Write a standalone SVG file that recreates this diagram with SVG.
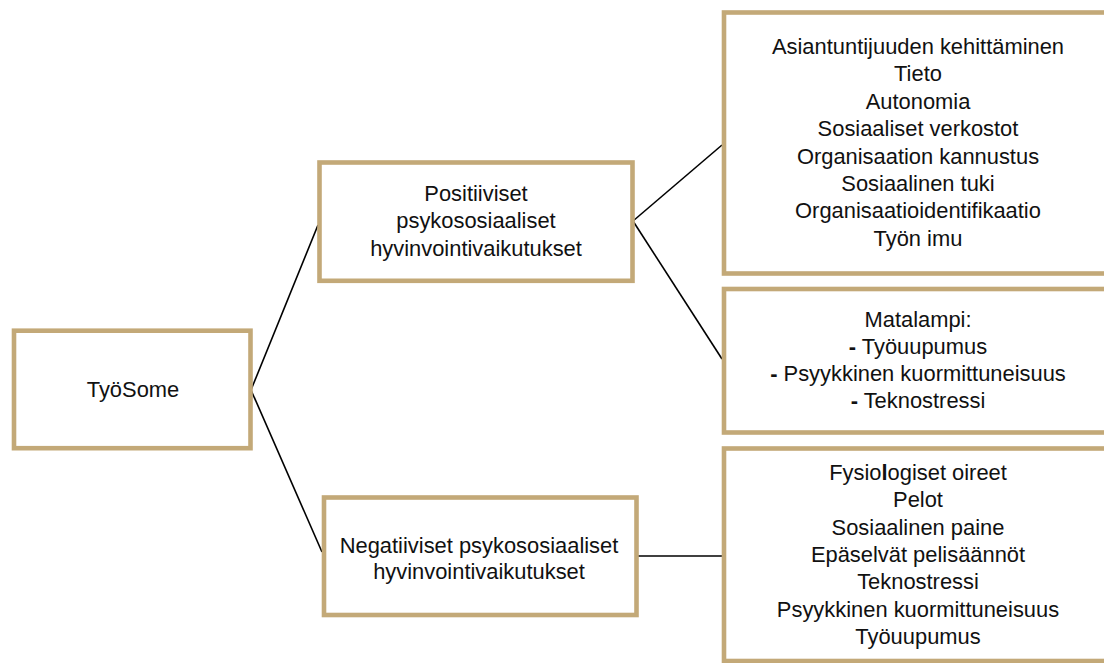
<svg xmlns="http://www.w3.org/2000/svg" width="1104" height="663" viewBox="0 0 1104 663">
<style>
.box{fill:#fff;stroke:#C3A978;stroke-width:4.6}
.t{font-family:"Liberation Sans",Arial,Helvetica,sans-serif;font-size:21.9px;fill:#111;text-anchor:middle}
.c{stroke:#000;stroke-width:1.6;fill:none}
.b{font-weight:bold}
</style>
<rect width="1104" height="663" fill="#fff"/>
<g id="connectors">
<line class="c" x1="251" y1="390" x2="318" y2="225"/>
<line class="c" x1="251" y1="390" x2="322" y2="552"/>
<line class="c" x1="633" y1="221" x2="722" y2="145"/>
<line class="c" x1="633" y1="221" x2="722" y2="359"/>
<line class="c" x1="637" y1="556" x2="722" y2="556"/>
</g>
<g id="tyosome">
<rect class="box" x="14" y="330.7" width="236.5" height="117.5"/>
<text class="t" x="133" y="396.5">TyöSome</text>
</g>
<g id="positiiviset">
<rect class="box" x="319.5" y="162.5" width="313" height="118.3"/>
<text class="t" x="476" y="200.7">Positiiviset</text>
<text class="t" x="476" y="228">psykososiaaliset</text>
<text class="t" x="476" y="255.5">hyvinvointivaikutukset</text>
</g>
<g id="negatiiviset">
<rect class="box" x="324" y="497.5" width="312.5" height="117.5"/>
<text class="t" x="479" y="552.5">Negatiiviset psykososiaaliset</text>
<text class="t" x="479" y="579">hyvinvointivaikutukset</text>
</g>
<g id="positiiviset-lista">
<rect class="box" x="724" y="12.5" width="390" height="261"/>
<text class="t" x="918" y="54">Asiantuntijuuden kehittäminen</text>
<text class="t" x="918" y="81.4">Tieto</text>
<text class="t" x="918" y="108.8">Autonomia</text>
<text class="t" x="918" y="136.2">Sosiaaliset verkostot</text>
<text class="t" x="918" y="163.6">Organisaation kannustus</text>
<text class="t" x="918" y="191">Sosiaalinen tuki</text>
<text class="t" x="918" y="218.4">Organisaatioidentifikaatio</text>
<text class="t" x="918" y="245.8">Työn imu</text>
</g>
<g id="matalampi">
<rect class="box" x="724" y="289" width="390" height="143.5"/>
<text class="t" x="918" y="326.5">Matalampi:</text>
<text class="t" x="918" y="353.8"><tspan class="b">-</tspan> Työuupumus</text>
<text class="t" x="918" y="381"><tspan class="b">-</tspan> Psyykkinen kuormittuneisuus</text>
<text class="t" x="918" y="408.3"><tspan class="b">-</tspan> Teknostressi</text>
</g>
<g id="negatiiviset-lista">
<rect class="box" x="724" y="448.5" width="390" height="212.5"/>
<text class="t" x="918" y="479.7">Fysio<tspan class="b">l</tspan>ogiset oireet</text>
<text class="t" x="918" y="507.1">Pelot</text>
<text class="t" x="918" y="534.5">Sosiaalinen paine</text>
<text class="t" x="918" y="561.9">Epäselvät pelisäännöt</text>
<text class="t" x="918" y="589.3">Teknostressi</text>
<text class="t" x="918" y="616.7">Psyykkinen kuormittuneisuus</text>
<text class="t" x="918" y="644.1">Työuupumus</text>
</g>
</svg>
